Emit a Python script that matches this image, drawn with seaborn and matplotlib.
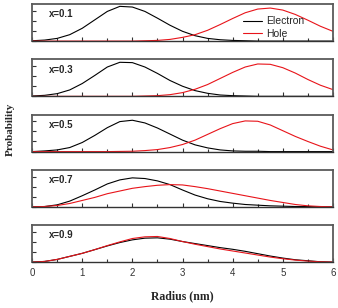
import pandas as pd
import matplotlib
matplotlib.use("Agg")
import matplotlib.pyplot as plt
from matplotlib.ticker import MultipleLocator
import seaborn as sns

# Radius grid (nm) and probabilities
radius = [0, 0.25, 0.5, 0.75, 1.0, 1.25, 1.5, 1.75, 2.0, 2.25, 2.5, 2.75, 3.0,
          3.25, 3.5, 3.75, 4.0, 4.25, 4.5, 4.75, 5.0, 5.25, 5.5, 5.75, 6.0]

compositions = ["x=0.1", "x=0.3", "x=0.5", "x=0.7", "x=0.9"]

electron = [
    [0.01, 0.03, 0.08, 0.19, 0.38, 0.63, 0.88, 1.03, 1.01, 0.88, 0.68, 0.47, 0.29,
     0.16, 0.08, 0.04, 0.02, 0.01, 0, 0, 0, 0, 0, 0, 0],
    [0.01, 0.03, 0.08, 0.19, 0.38, 0.62, 0.87, 1.01, 1.00, 0.87, 0.68, 0.47, 0.30,
     0.17, 0.09, 0.04, 0.02, 0.01, 0, 0, 0, 0, 0, 0, 0],
    [0, 0.02, 0.05, 0.12, 0.27, 0.48, 0.71, 0.89, 0.93, 0.85, 0.70, 0.52, 0.34,
     0.20, 0.11, 0.05, 0.02, 0.01, 0.01, 0, 0, 0, 0, 0, 0],
    [0, 0.01, 0.06, 0.17, 0.33, 0.50, 0.68, 0.80, 0.86, 0.84, 0.77, 0.66, 0.50,
     0.35, 0.24, 0.16, 0.11, 0.07, 0.05, 0.03, 0.02, 0.01, 0.01, 0, 0],
    [0, 0.02, 0.08, 0.17, 0.26, 0.37, 0.48, 0.58, 0.66, 0.71, 0.72, 0.68, 0.61,
     0.55, 0.49, 0.43, 0.38, 0.32, 0.25, 0.18, 0.12, 0.07, 0.04, 0.01, 0],
]

hole = [
    [0, 0, 0, 0, 0, 0, 0, 0, 0, 0.01, 0.02, 0.05, 0.11,
     0.19, 0.32, 0.49, 0.67, 0.84, 0.95, 0.98, 0.92, 0.79, 0.62, 0.44, 0.29],
    [0, 0, 0, 0, 0, 0, 0, 0, 0, 0.01, 0.02, 0.05, 0.11,
     0.21, 0.35, 0.53, 0.71, 0.87, 0.96, 0.95, 0.85, 0.69, 0.50, 0.33, 0.20],
    [0, 0, 0, 0, 0, 0, 0, 0.005, 0.01, 0.03, 0.06, 0.12, 0.21,
     0.34, 0.51, 0.68, 0.83, 0.91, 0.90, 0.79, 0.62, 0.45, 0.30, 0.16, 0.05],
    [0, 0.01, 0.04, 0.10, 0.19, 0.28, 0.39, 0.47, 0.55, 0.60, 0.64, 0.66, 0.65,
     0.60, 0.54, 0.47, 0.40, 0.33, 0.26, 0.19, 0.13, 0.07, 0.03, 0.01, 0],
    [0, 0.02, 0.08, 0.17, 0.26, 0.37, 0.49, 0.60, 0.70, 0.75, 0.76, 0.70, 0.61,
     0.53, 0.46, 0.39, 0.33, 0.27, 0.21, 0.15, 0.10, 0.06, 0.03, 0.01, 0],
]

sns.set_style("ticks")
plt.rcParams["font.family"] = ["Liberation Sans", "DejaVu Sans"]

fig, axes = plt.subplots(5, 1, figsize=(3.38, 3.08), dpi=100, sharex=True)
fig.subplots_adjust(left=0.095, right=0.985, top=0.987, bottom=0.149, hspace=0.49)

palette = {"Electron": "black", "Hole": "#e8141a"}
frame_color = "#5a5a5a"

for i, ax in enumerate(axes):
    df = pd.DataFrame({
        "radius": radius * 2,
        "prob": electron[i] + hole[i],
        "carrier": ["Electron"] * len(radius) + ["Hole"] * len(radius),
    })
    sns.lineplot(data=df, x="radius", y="prob", hue="carrier",
                 hue_order=["Electron", "Hole"], palette=palette,
                 linewidth=0.8, ax=ax, legend=False)

    ax.set_xlim(0, 6)
    ax.set_ylim(0, 1.1)
    ax.set_yticks([0, 0.3, 0.6, 0.9])
    ax.set_yticklabels([])
    ax.xaxis.set_major_locator(MultipleLocator(1))
    ax.xaxis.set_minor_locator(MultipleLocator(0.5))
    ax.tick_params(axis="both", which="major", direction="in", length=3,
                   width=0.8, color="#333333", labelsize=7, pad=4)
    ax.tick_params(axis="x", which="minor", direction="in", length=2,
                   width=0.8, color="#333333")
    ax.set_xlabel("")
    ax.set_ylabel("")
    for side, sp in ax.spines.items():
        sp.set_visible(True)
        sp.set_color(frame_color)
        sp.set_linewidth(1.3)
    ax.spines["bottom"].set_color("#333333")
    ax.spines["bottom"].set_linewidth(1.0)

    ax.text(0.055, 0.72, compositions[i], transform=ax.transAxes,
            fontsize=7, fontweight="bold", ha="left", va="center")

axes[-1].tick_params(axis="x", labelcolor="#333333")

# legend in the top panel
handles = axes[0].get_lines()[:2]
axes[0].legend(handles, ["Electron", "Hole"], loc="center left",
               bbox_to_anchor=(0.685, 0.36), frameon=False, fontsize=7.5,
               handlelength=1.8, handletextpad=0.4, labelspacing=0.25,
               borderpad=0)

fig.text(0.54, 1 - 296 / 308, "Radius (nm)", ha="center", va="center",
         fontsize=8.5, fontweight="bold", family=["Liberation Serif", "DejaVu Serif"])
fig.text(0.03, 0.58, "Probability", ha="center", va="center", rotation=90,
         fontsize=8, fontweight="bold", family=["Liberation Serif", "DejaVu Serif"])

fig.savefig("out.png", dpi=100)
